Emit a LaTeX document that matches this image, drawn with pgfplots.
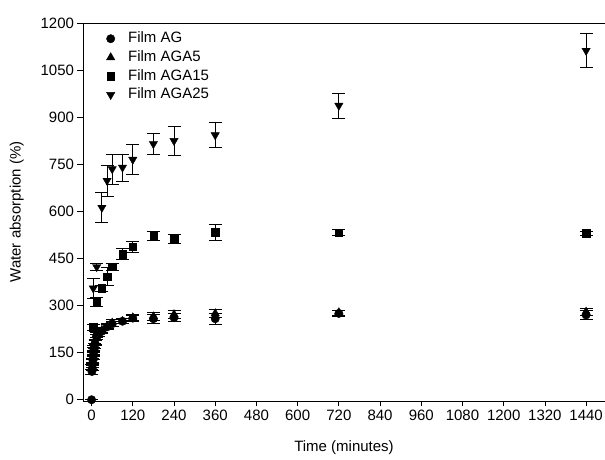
\documentclass[border=0pt]{standalone}
\usepackage{pgfplots}
\pgfplotsset{compat=1.18}
\usepackage{pgfplotstable}
\usepackage{fontspec}
\setmainfont{Liberation Sans}

\pgfplotstableread{
t y e
0 0 0
1 90 8
2 100 8
3 112 8
4 125 8
5 138 8
6 150 8
7 160 8
8 170 8
10 180 8
15 205 8
30 218 8
45 232 8
60 242 8
90 250 8
120 260 10
180 258 15
240 262 12
360 258 18
720 275 8
1440 270 15
}\AG

\pgfplotstableread{
t y e
1 105 8
3 120 8
5 145 8
7 165 8
10 185 8
15 200 8
20 210 8
30 222 8
45 235 8
60 245 10
90 250 8
120 262 10
180 265 12
240 272 12
360 275 12
720 278 8
1440 280 12
}\AGAfive

\pgfplotstableread{
t y e
5 231 10
15 312 15
30 355 10
45 392 28
60 423 10
90 464 17
120 487 17
180 522 15
240 513 15
360 534 25
720 533 8
1440 530 6
}\AGAfifteen

\pgfplotstableread{
t y e
5 355 33
15 423 12
30 612 47
45 698 50
60 735 48
90 740 43
120 765 48
180 815 33
240 825 47
360 843 40
720 937 40
1440 1112 55
}\AGAtwentyfive

\begin{document}
\begin{tikzpicture}
\begin{axis}[
  scale only axis,
  width=522pt, height=378pt,
  xmin=-25, xmax=1495,
  ymin=-4, ymax=1200,
  axis x line*=box,
  axis y line*=left,
  xtick pos=bottom, ytick pos=left,
  tick align=outside,
  major tick length=5.5pt,
  xtick={0,120,...,1440},
  ytick={0,150,...,1200},
  tick style={black, line width=0.8pt},
  axis line style={black, line width=0.8pt},
  tick label style={font=\fontsize{15}{17}\selectfont},
  label style={font=\fontsize{15}{17}\selectfont},
  /pgf/number format/assume math mode=true,
  /pgf/number format/1000 sep={},
  xlabel={Time (minutes)},
  ylabel={Water absorption (\%)},
  xlabel style={yshift=-13pt},
  ylabel style={yshift=10pt},
  legend style={draw=none, fill=none, at={(0.0302,0.988)}, anchor=north west,
    font=\fontsize{15}{17}\selectfont, row sep=0.7pt,
    nodes={inner ysep=2pt, text height=11pt, text depth=3pt}},
  legend cell align=left,
  legend image code/.code={%
    \path (0cm,0cm) (23.75pt,0cm);
    \draw[#1] plot coordinates {(0.3cm,0cm)};},
  error bars/error bar style={black, line width=0.8pt},
  error bars/error mark options={rotate=90, mark size=6.5pt, line width=0.8pt},
]
\addplot[only marks, mark=*, mark size=4.2pt, black,
  error bars/.cd, y dir=both, y explicit] table[x=t, y=y, y error=e]{\AG};
\addlegendentry{Film AG}
\addplot[only marks, mark=triangle*, mark size=4.8pt, black,
  error bars/.cd, y dir=both, y explicit] table[x=t, y=y, y error=e]{\AGAfive};
\addlegendentry{Film AGA5}
\addplot[only marks, mark=square*, mark size=3.7pt, black,
  error bars/.cd, y dir=both, y explicit] table[x=t, y=y, y error=e]{\AGAfifteen};
\addlegendentry{Film AGA15}
\addplot[only marks, mark=triangle*, mark options={rotate=180}, mark size=4.8pt, black,
  error bars/.cd, y dir=both, y explicit] table[x=t, y=y, y error=e]{\AGAtwentyfive};
\addlegendentry{Film AGA25}
\end{axis}
\pgfresetboundingbox
\path ([xshift=-83pt,yshift=-58.5pt]current axis.south west) rectangle ([yshift=23pt]current axis.north east);
\end{tikzpicture}
\end{document}
